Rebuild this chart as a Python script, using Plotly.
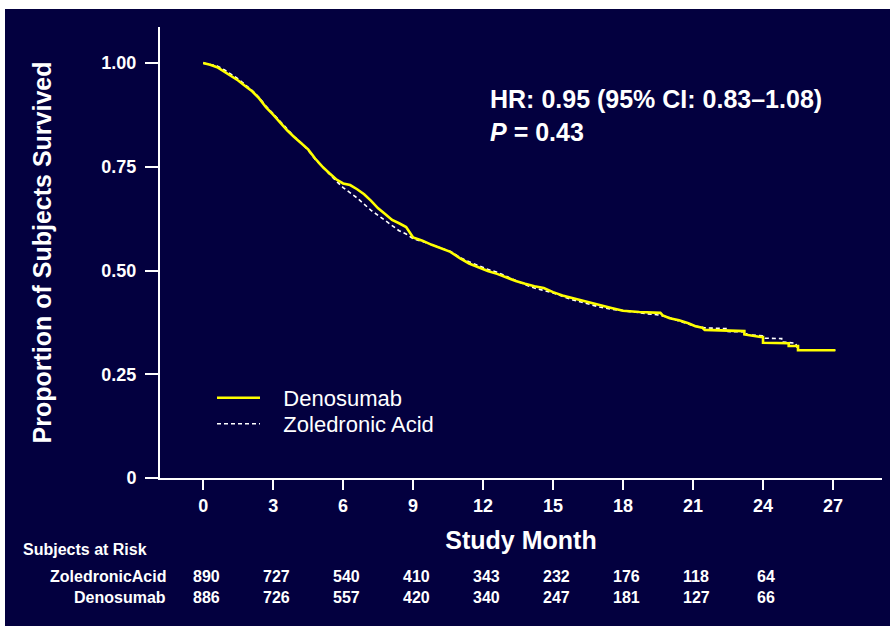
import plotly.graph_objects as go

# ---------------- data ----------------
den_months = [0, 0.3, 0.6, 0.9, 1.2, 1.5, 1.8, 2.1, 2.4, 2.7, 3.0, 3.3, 3.6, 3.9, 4.2, 4.5,
              4.8, 5.1, 5.4, 5.7, 6.0, 6.3, 6.6, 6.9, 7.2, 7.5, 7.8, 8.1, 8.4, 8.7, 9.0,
              9.4, 9.8, 10.2, 10.6, 11.0, 11.4, 11.8, 12.2, 12.6, 13.0, 13.4, 13.8, 14.2,
              14.6, 15.0, 15.4, 15.8, 16.2, 16.6, 17.0, 17.5, 18.0, 18.7, 19.6, 19.7, 20.0,
              20.4, 20.8, 21.1, 21.4, 21.5, 23.2, 23.2, 23.9, 24.0, 24.0, 25.1, 25.1, 25.5,
              25.5, 27.1]
denosumab = [1.000, 0.996, 0.990, 0.980, 0.970, 0.958, 0.945, 0.932, 0.915, 0.893,
             0.876, 0.857, 0.838, 0.822, 0.806, 0.792, 0.770, 0.751, 0.735, 0.720,
             0.710, 0.706, 0.696, 0.684, 0.668, 0.650, 0.636, 0.622, 0.614, 0.605,
             0.580, 0.572, 0.562, 0.553, 0.545, 0.530, 0.517, 0.508, 0.499, 0.492,
             0.483, 0.475, 0.468, 0.462, 0.458, 0.448, 0.440, 0.434, 0.428, 0.423,
             0.417, 0.410, 0.403, 0.400, 0.398, 0.392, 0.385, 0.380, 0.373, 0.366,
             0.362, 0.357, 0.354, 0.346, 0.340, 0.340, 0.326, 0.325, 0.318, 0.318,
             0.308, 0.308]

zol_months = [0, 0.3, 0.6, 0.9, 1.2, 1.5, 1.8, 2.1, 2.4, 2.7, 3.0, 3.3, 3.6, 3.9, 4.2, 4.5,
              4.8, 5.1, 5.4, 5.7, 6.0, 6.3, 6.6, 6.9, 7.2, 7.5, 7.8, 8.1, 8.4, 8.7, 9.0,
              9.4, 9.8, 10.2, 10.6, 11.0, 11.4, 11.8, 12.2, 12.6, 13.0, 13.4, 13.8, 14.2,
              14.6, 15.0, 15.4, 15.8, 16.2, 16.6, 17.0, 17.5, 18.0, 18.5, 19.0, 19.5, 19.9,
              20.3, 20.7, 21.1, 21.5, 22.5, 22.5, 23.3, 23.3, 24.0, 24.1, 24.8, 24.8, 25.4,
              25.5, 27.1]
zoledronic = [1.000, 0.997, 0.993, 0.984, 0.973, 0.962, 0.948, 0.934, 0.917, 0.896,
              0.878, 0.860, 0.840, 0.823, 0.808, 0.790, 0.768, 0.750, 0.733, 0.716,
              0.700, 0.688, 0.675, 0.660, 0.645, 0.633, 0.621, 0.608, 0.596, 0.588,
              0.577, 0.570, 0.562, 0.554, 0.546, 0.532, 0.521, 0.512, 0.503, 0.496,
              0.486, 0.475, 0.466, 0.458, 0.452, 0.446, 0.438, 0.430, 0.424, 0.418,
              0.412, 0.407, 0.403, 0.399, 0.396, 0.393, 0.388, 0.380, 0.373, 0.366,
              0.362, 0.360, 0.353, 0.352, 0.345, 0.343, 0.337, 0.336, 0.328, 0.325,
              0.308, 0.308]

x_ticks = [0, 3, 6, 9, 12, 15, 18, 21, 24, 27]
y_ticks = [0, 0.25, 0.50, 0.75, 1.00]
y_ticktext = ["0", "0.25", "0.50", "0.75", "1.00"]

risk_months = [0, 3, 6, 9, 12, 15, 18, 21, 24]
risk_zoledronic = [890, 727, 540, 410, 343, 232, 176, 118, 64]
risk_denosumab = [886, 726, 557, 420, 340, 247, 181, 127, 66]

hr_text = "HR: 0.95 (95% CI: 0.83\u20131.08)<br><i>P</i> = 0.43"

# ---------------- style ----------------
NAVY = "#03003f"
FONT = "Liberation Sans, Arial, sans-serif"
W, H = 890, 626
L, R, T, B = 160, 8, 27, 148
PW, PH = W - L - R, H - T - B


def px_x(p):
    return (p - L) / PW


def px_y(p):
    return (H - B - p) / PH


fig = go.Figure()

fig.add_trace(go.Scatter(
    x=zol_months, y=zoledronic, mode="lines", name="\u00a0\u00a0\u00a0Zoledronic Acid",
    line=dict(color="white", width=1.6, dash="4px,3px"), legend="legend2",
))
fig.add_trace(go.Scatter(
    x=den_months, y=denosumab, mode="lines", name="\u00a0\u00a0\u00a0Denosumab",
    line=dict(color="#ffff00", width=2.6), legend="legend",
))

fig.add_annotation(
    x=12.23, y=0.873, xref="x", yref="y", text=hr_text, showarrow=False,
    xanchor="left", yanchor="middle", align="left",
    font=dict(family=FONT, size=25, color="white", weight="bold"),
)

# risk table
fig.add_annotation(
    x=px_x(21), y=px_y(549), xref="paper", yref="paper", text="Subjects at Risk",
    showarrow=False, xanchor="left", yanchor="middle",
    font=dict(family=FONT, size=16, color="white", weight="bold"),
)
for label, row, ypx in [("ZoledronicAcid", risk_zoledronic, 576),
                        ("Denosumab", risk_denosumab, 597)]:
    fig.add_annotation(
        x=px_x(168), y=px_y(ypx), xref="paper", yref="paper", text=label,
        showarrow=False, xanchor="right", yanchor="middle",
        font=dict(family=FONT, size=16, color="white", weight="bold"),
    )
    for m, n in zip(risk_months, row):
        fig.add_annotation(
            x=m, y=px_y(ypx), xref="x", yref="paper", text=str(n), xshift=3,
            showarrow=False, xanchor="center", yanchor="middle",
            font=dict(family=FONT, size=16, color="white", weight="bold"),
        )

# white border strips at top and left
fig.add_shape(type="rect", xref="paper", yref="paper", x0=px_x(-5), x1=px_x(W + 5),
              y0=px_y(9), y1=px_y(-5), fillcolor="white", line_width=0, layer="above")
fig.add_shape(type="rect", xref="paper", yref="paper", x0=px_x(-5), x1=px_x(5),
              y0=px_y(H + 5), y1=px_y(-5), fillcolor="white", line_width=0, layer="above")

axis_common = dict(
    showgrid=False, zeroline=False, showline=True, linecolor="white", linewidth=2,
    ticks="outside", tickcolor="white", tickwidth=2,
    tickfont=dict(family=FONT, size=18, color="white", weight="bold"),
)

fig.update_xaxes(
    range=[-1.85, 29.1], tickvals=x_ticks, ticklen=10, **axis_common,
    title=dict(text="Study Month", standoff=17,
               font=dict(family=FONT, size=25, color="white", weight="bold")),
)
fig.update_yaxes(
    range=[0, 1.087], tickvals=y_ticks, ticktext=y_ticktext, ticklen=13,
    ticklabelstandoff=5, **axis_common,
    title=dict(text="Proportion of Subjects Survived", standoff=43,
               font=dict(family=FONT, size=25, color="white", weight="bold")),
)

legend_common = dict(
    xanchor="left", yanchor="top", bgcolor="rgba(0,0,0,0)", borderwidth=0,
    itemwidth=43, font=dict(family=FONT, size=22, color="white"),
)

fig.update_layout(
    width=W, height=H,
    margin=dict(l=L, r=R, t=T, b=B, autoexpand=False),
    paper_bgcolor=NAVY, plot_bgcolor=NAVY,
    showlegend=True,
    legend=dict(x=px_x(212), y=px_y(377), **legend_common),
    legend2=dict(x=px_x(212), y=px_y(403), **legend_common),
)

fig.write_html(
    "out.html",
    config={"displayModeBar": False},
    post_script=("document.body.style.margin='0px';"
                 "document.body.style.overflow='hidden';"
                 "document.body.style.background='" + NAVY + "';"
                 "document.documentElement.style.background='" + NAVY + "';"),
)
